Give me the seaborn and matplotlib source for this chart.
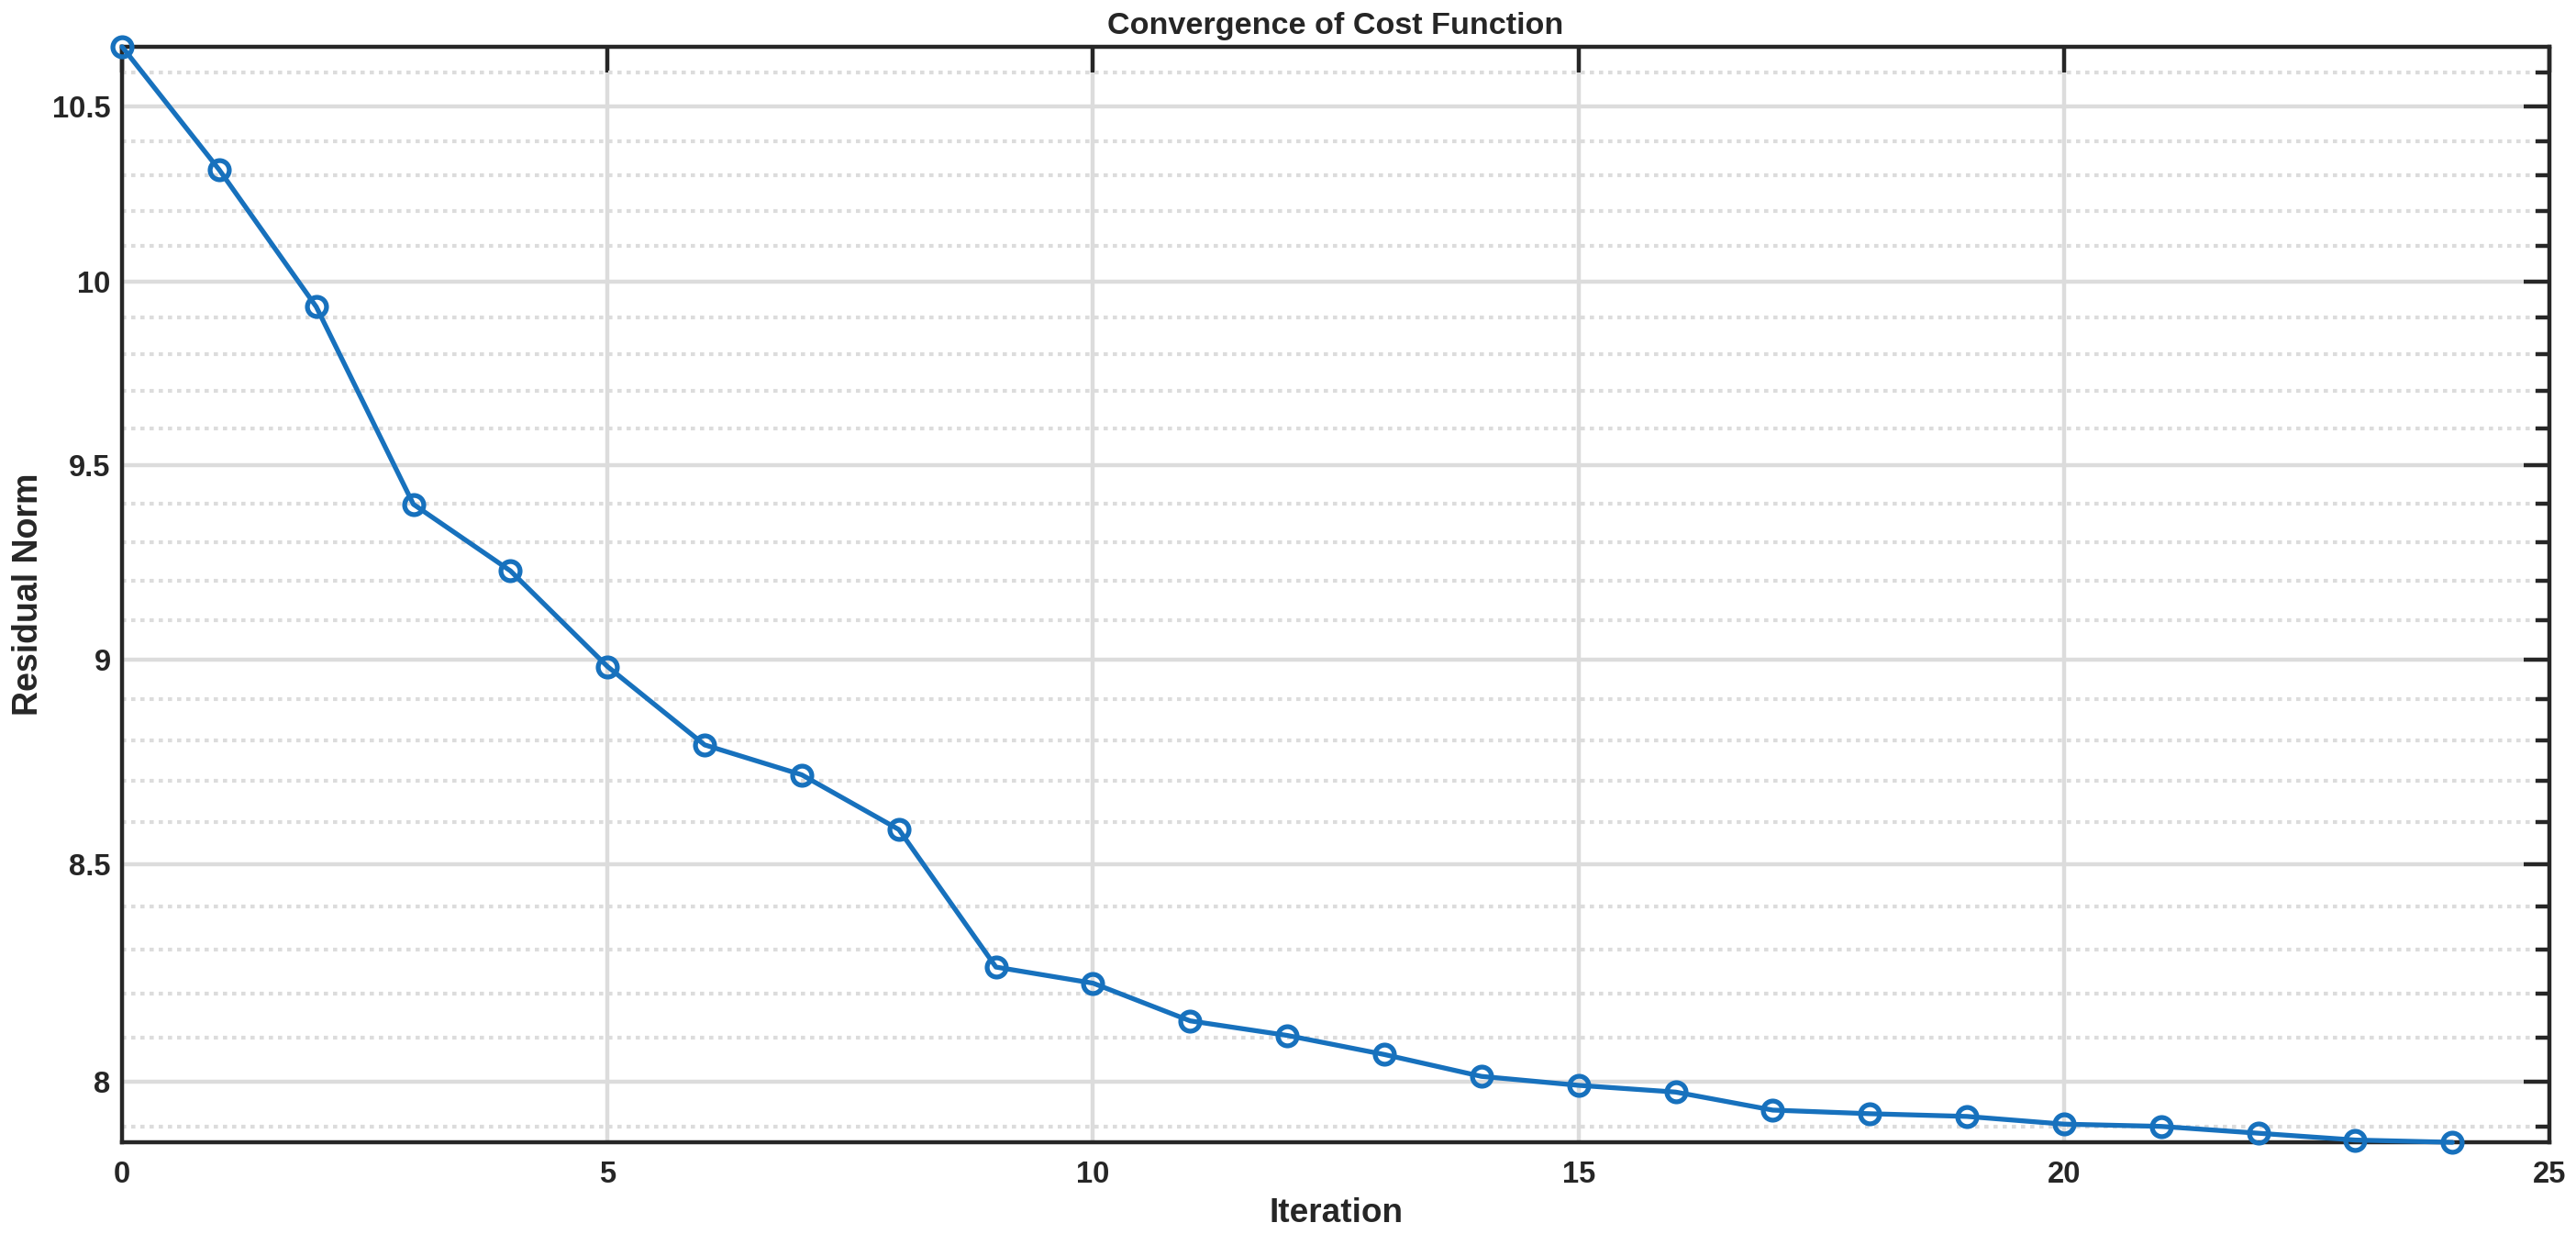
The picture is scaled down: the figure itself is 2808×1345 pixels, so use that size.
import matplotlib
matplotlib.use("Agg")
import matplotlib.pyplot as plt
import matplotlib.ticker as mticker
import numpy as np
import pandas as pd
import seaborn as sns

# values
iterations = list(range(25))
residual_norm = [10.677, 10.317, 9.930, 9.398, 9.225, 8.982, 8.788, 8.715, 8.583,
                 8.260, 8.223, 8.137, 8.104, 8.061, 8.012, 7.992, 7.977, 7.937,
                 7.929, 7.923, 7.906, 7.901, 7.886, 7.871, 7.866]
y_major = [8, 8.5, 9, 9.5, 10, 10.5]
x_major = [0, 5, 10, 15, 20, 25]

sns.set_style("white")
plt.rcParams['font.family'] = ['Liberation Sans', 'DejaVu Sans']
plt.rcParams['font.weight'] = 'bold'

DARK = '#262626'
GRID = '#dcdcdc'
BLUE = '#1771bd'

df = pd.DataFrame({'Iteration': iterations, 'Residual Norm': residual_norm})

fig = plt.figure(figsize=(14.04, 6.725), dpi=200)
ax = fig.add_axes([0.0474, 0.0743, 0.9423, 0.8878])

sns.lineplot(data=df, x='Iteration', y='Residual Norm', ax=ax, color=BLUE,
             linewidth=1.9, marker='o', markersize=7.5, markerfacecolor='none',
             markeredgecolor=BLUE, markeredgewidth=1.9, zorder=5, clip_on=False)

ax.set_yscale('log')
ax.set_xlim(0, 25)
ax.set_ylim(min(residual_norm), max(residual_norm))

ax.xaxis.set_major_locator(mticker.FixedLocator(x_major))
ax.yaxis.set_major_locator(mticker.FixedLocator(y_major))
ax.yaxis.set_major_formatter(mticker.FuncFormatter(lambda v, p: f"{v:g}"))
ax.yaxis.set_minor_locator(mticker.FixedLocator(np.round(np.arange(7.9, 10.65, 0.1), 1)))
ax.yaxis.set_minor_formatter(mticker.NullFormatter())
ax.xaxis.set_minor_locator(mticker.NullLocator())

ax.grid(True, which='major', color=GRID, linewidth=1.6, linestyle='-')
ax.yaxis.grid(True, which='minor', color=GRID, linewidth=1.5, linestyle=(0, (1.1, 1.3)))
ax.set_axisbelow(True)

for s in ax.spines.values():
    s.set_visible(True)
    s.set_color(DARK)
    s.set_linewidth(1.6)

ax.tick_params(which='both', direction='in', top=True, right=True, colors=DARK,
               labelcolor=DARK, labelsize=11.8)
ax.tick_params(which='major', length=10, width=1.6)
ax.tick_params(which='minor', length=5.3, width=1.6)
ax.tick_params(axis='x', which='major', pad=7)
ax.tick_params(axis='y', which='major', pad=4.5)

ax.set_xlabel('Iteration', fontsize=13.3, fontweight='bold', color=DARK, labelpad=3.5)
ax.set_ylabel('Residual Norm', fontsize=13.5, fontweight='bold', color=DARK, labelpad=3)
ax.set_title('Convergence of Cost Function', fontsize=12.3, fontweight='bold',
             color=DARK, pad=5)

fig.savefig('out.png', dpi=200, facecolor='white')
